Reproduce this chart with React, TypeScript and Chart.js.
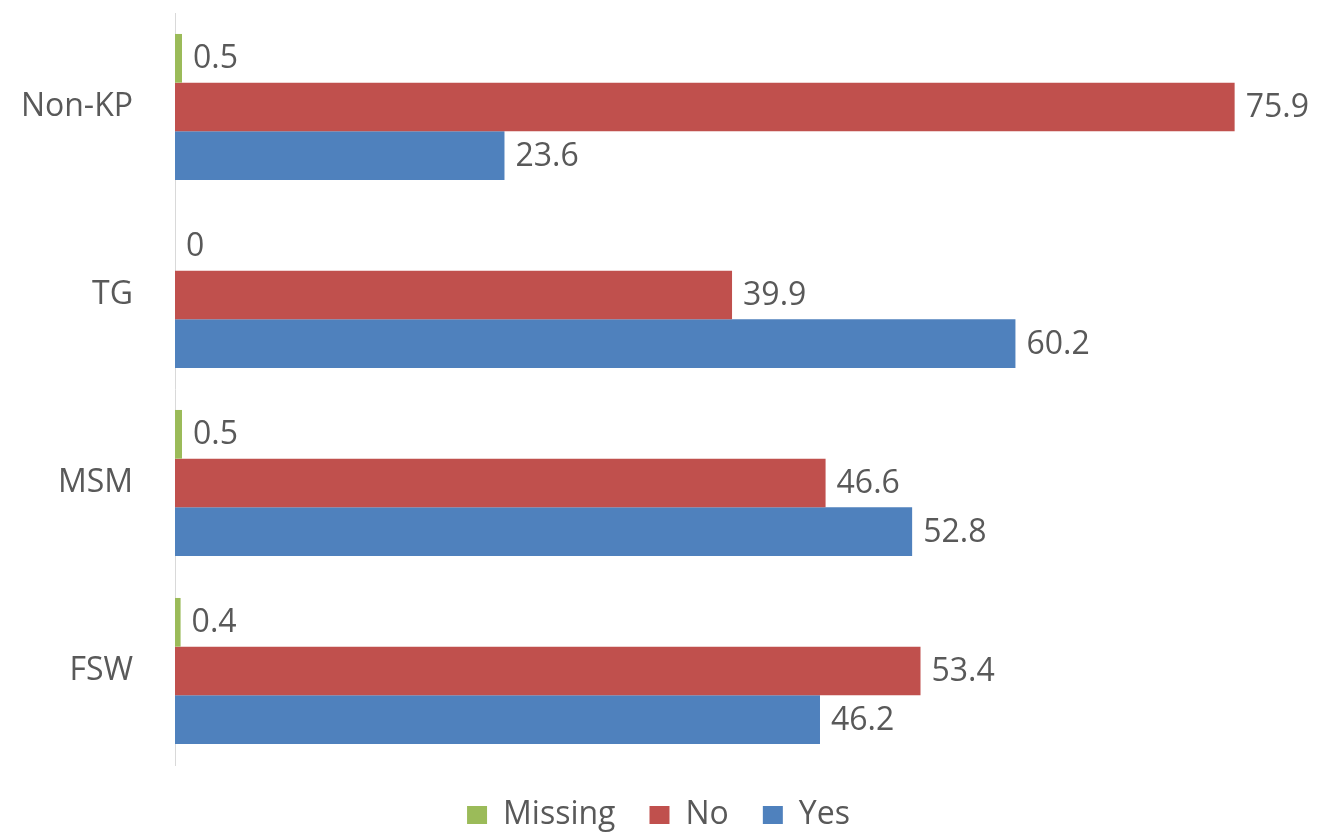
import React, { useEffect, useRef } from "react";
import { Chart, registerables } from "chart.js";

Chart.register(...registerables);

const categories = ["Non-KP", "TG", "MSM", "FSW"];
const missingValues = [0.5, 0, 0.5, 0.4];
const noValues = [75.9, 39.9, 46.6, 53.4];
const yesValues = [23.6, 60.2, 52.8, 46.2];
const seriesNames = ["Missing", "No", "Yes"];

const FONT = "'Open Sans', 'Liberation Sans', sans-serif";
const TEXT = "#595959";

const valueLabels = {
  id: "valueLabels",
  afterDatasetsDraw(chart: any) {
    const ctx = chart.ctx;
    ctx.save();
    ctx.font = `32px ${FONT}`;
    ctx.fillStyle = TEXT;
    ctx.textAlign = "left";
    ctx.textBaseline = "middle";
    chart.data.datasets.forEach((ds: any, di: number) => {
      const meta = chart.getDatasetMeta(di);
      meta.data.forEach((bar: any, i: number) => {
        const v = ds.data[i];
        ctx.fillText(String(v), bar.x + 11, bar.y + 1);
      });
    });
    ctx.restore();
  },
};

const legendHeight = {
  id: "legendHeight",
  beforeInit(chart: any) {
    const legend = chart.legend;
    if (!legend) return;
    const orig = legend.fit;
    legend.fit = function () {
      orig.call(this);
      this.height = 74;
    };
  },
};

export default function App() {
  const ref = useRef<HTMLCanvasElement | null>(null);
  useEffect(() => {
    if (!ref.current) return;
    const chart = new Chart(ref.current, {
      type: "bar",
      data: {
        labels: categories,
        datasets: [
          { label: seriesNames[0], data: missingValues, backgroundColor: "#9BBB59" },
          { label: seriesNames[1], data: noValues, backgroundColor: "#C0504D" },
          { label: seriesNames[2], data: yesValues, backgroundColor: "#4F81BD" },
        ],
      },
      options: {
        indexAxis: "y",
        animation: false,
        responsive: false,
        maintainAspectRatio: false,
        datasets: { bar: { categoryPercentage: 0.777, barPercentage: 1 } },
        layout: { padding: { top: 13, right: 0, bottom: 0, left: 0 } },
        scales: {
          x: { display: false, min: 0, max: 81.8 },
          y: {
            grid: { display: false },
            border: { display: true, color: "#D9D9D9", width: 1 },
            ticks: { font: { family: FONT, size: 32 }, color: TEXT, padding: 34 },
            afterFit: (scale: any) => {
              scale.width = 175;
              scale.paddingTop = 0;
              scale.paddingBottom = 0;
            },
          },
        },
        plugins: {
          tooltip: { enabled: false },
          legend: {
            position: "bottom",
            labels: {
              font: { family: FONT, size: 32 },
              color: TEXT,
              boxWidth: 20,
              boxHeight: 18,
              padding: 34,
            },
          },
        },
      },
      plugins: [legendHeight, valueLabels],
    });
    return () => chart.destroy();
  }, []);
  return (
    <div style={{ position: "fixed", left: 0, top: 0, width: 1317, height: 839, background: "#fff" }}>
      <canvas ref={ref} width={1317} height={839} style={{ display: "block" }} />
    </div>
  );
}
